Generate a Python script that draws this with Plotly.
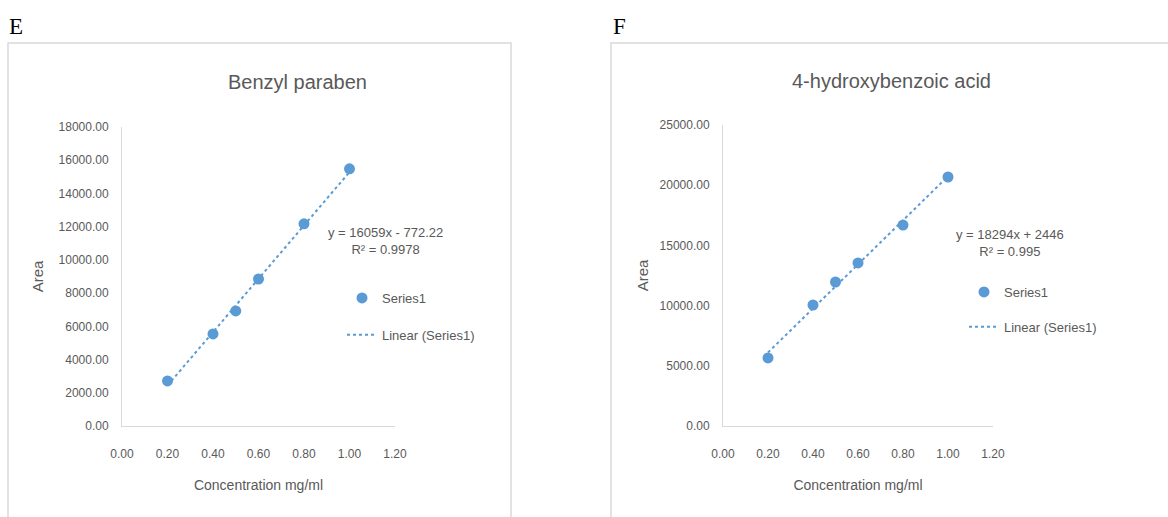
import plotly.graph_objects as go

# Calibration data: concentration (mg/ml) vs. peak area
conc_e = [0.2, 0.4, 0.5, 0.6, 0.8, 1.0]
area_e = [2710, 5540, 6930, 8850, 12170, 15480]
slope_e, intercept_e, r2_e = 16059, -772.22, 0.9978

conc_f = [0.2, 0.4, 0.5, 0.6, 0.8, 1.0]
area_f = [5650, 10050, 11960, 13540, 16690, 20680]
slope_f, intercept_f, r2_f = 18294, 2446, 0.995

x_ticks = [0.0, 0.2, 0.4, 0.6, 0.8, 1.0, 1.2]
y_ticks_e = [0, 2000, 4000, 6000, 8000, 10000, 12000, 14000, 16000, 18000]
y_ticks_f = [0, 5000, 10000, 15000, 20000, 25000]

W, H = 1168, 517
BLUE = "#5b9bd5"
GREY_TXT = "#595959"
AXIS_GREY = "#d9d9d9"
SANS = "Liberation Sans, Arial, sans-serif"


def px(x):
    return x / W


def py(y):
    return 1 - y / H


fig = go.Figure()

# Panel E: scatter + dotted linear trendline
fig.add_trace(go.Scatter(
    x=conc_e, y=area_e, mode="markers", name="Series1",
    marker=dict(color=BLUE, size=11, symbol="circle"),
    xaxis="x", yaxis="y", legend="legend", legendgroup="e1"))
fit_x_e = [min(conc_e), max(conc_e)]
fig.add_trace(go.Scatter(
    x=fit_x_e, y=[slope_e * v + intercept_e for v in fit_x_e], mode="lines",
    name="Linear (Series1)", line=dict(color=BLUE, width=2, dash="dot"),
    xaxis="x", yaxis="y", legend="legend", legendgroup="e2"))

# Panel F
fig.add_trace(go.Scatter(
    x=conc_f, y=area_f, mode="markers", name="Series1",
    marker=dict(color=BLUE, size=11, symbol="circle"),
    xaxis="x2", yaxis="y2", legend="legend2", legendgroup="f1"))
fit_x_f = [min(conc_f), max(conc_f)]
fig.add_trace(go.Scatter(
    x=fit_x_f, y=[slope_f * v + intercept_f for v in fit_x_f], mode="lines",
    name="Linear (Series1)", line=dict(color=BLUE, width=2, dash="dot"),
    xaxis="x2", yaxis="y2", legend="legend2", legendgroup="f2"))

tick_font = dict(family=SANS, size=12, color=GREY_TXT)
title_font_x = dict(family=SANS, size=14, color=GREY_TXT)
title_font_y = dict(family=SANS, size=15, color=GREY_TXT)

xaxis_common = dict(range=[0, 1.2], tickvals=x_ticks,
                    ticktext=[f"{v:.2f}" for v in x_ticks],
                    showgrid=False, zeroline=False, showline=True,
                    linecolor=AXIS_GREY, linewidth=1, ticks="",
                    ticklabelstandoff=17, automargin=False,
                    tickfont=tick_font, title_font=title_font_x,
                    title_text="Concentration mg/ml", title_standoff=19,
                    fixedrange=True)

yaxis_common = dict(showgrid=False, zeroline=False, showline=True,
                    linecolor=AXIS_GREY, linewidth=1, ticks="",
                    ticklabelstandoff=10, automargin=False,
                    tickfont=tick_font, title_text="Area",
                    title_font=title_font_y, fixedrange=True)

fig.update_layout(
    width=W, height=H,
    margin=dict(l=0, r=0, t=0, b=0, autoexpand=False),
    paper_bgcolor="white", plot_bgcolor="white",
    xaxis=dict(domain=[px(122), px(395)], anchor="y", **xaxis_common),
    yaxis=dict(domain=[py(426), py(127)], anchor="x", range=[0, 18000],
               tickvals=y_ticks_e, ticktext=[f"{v:.2f}" for v in y_ticks_e],
               title_standoff=11, **yaxis_common),
    xaxis2=dict(domain=[px(723), px(993)], anchor="y2", **xaxis_common),
    yaxis2=dict(domain=[py(426), py(125)], anchor="x2", range=[0, 25000],
                tickvals=y_ticks_f, ticktext=[f"{v:.2f}" for v in y_ticks_f],
                title_standoff=7, **yaxis_common),
    legend=dict(x=px(342), y=py(283), xanchor="left", yanchor="top",
                font=dict(family=SANS, size=13, color=GREY_TXT),
                bgcolor="rgba(0,0,0,0)", tracegroupgap=17),
    legend2=dict(x=px(964), y=py(277), xanchor="left", yanchor="top",
                 font=dict(family=SANS, size=13, color=GREY_TXT),
                 bgcolor="rgba(0,0,0,0)", tracegroupgap=15),
    showlegend=True,
)

# Chart frames
fig.add_shape(type="rect", xref="paper", yref="paper",
              x0=px(8), x1=px(511), y0=py(530), y1=py(43),
              line=dict(color=AXIS_GREY, width=1.5), fillcolor="rgba(0,0,0,0)")
fig.add_shape(type="rect", xref="paper", yref="paper",
              x0=px(611), x1=px(1180), y0=py(530), y1=py(43),
              line=dict(color=AXIS_GREY, width=1.5), fillcolor="rgba(0,0,0,0)")

annotations = [
    # Panel letters
    dict(text="E", x=px(7), y=py(26), xanchor="left", yanchor="middle",
         font=dict(family="Liberation Serif, Times New Roman, serif", size=23, color="black")),
    dict(text="F", x=px(611), y=py(26), xanchor="left", yanchor="middle",
         font=dict(family="Liberation Serif, Times New Roman, serif", size=23, color="black")),
    # Chart titles
    dict(text="Benzyl paraben", x=px(297), y=py(82), xanchor="center", yanchor="middle",
         font=dict(family=SANS, size=20, color=GREY_TXT)),
    dict(text="4-hydroxybenzoic acid", x=px(891), y=py(81), xanchor="center", yanchor="middle",
         font=dict(family=SANS, size=20, color=GREY_TXT)),
    # Trendline equations
    dict(text=f"y = {slope_e}x - {abs(intercept_e):.2f}<br>R² = {r2_e}",
         x=px(385), y=py(241), xanchor="center", yanchor="middle", align="center",
         font=dict(family=SANS, size=13, color=GREY_TXT)),
    dict(text=f"y = {slope_f}x + {intercept_f}<br>R² = {r2_f}",
         x=px(1010), y=py(243), xanchor="center", yanchor="middle", align="center",
         font=dict(family=SANS, size=13, color=GREY_TXT)),
]
for a in annotations:
    a.update(xref="paper", yref="paper", showarrow=False)
fig.update_layout(annotations=annotations)

fig.write_html("out.html")
